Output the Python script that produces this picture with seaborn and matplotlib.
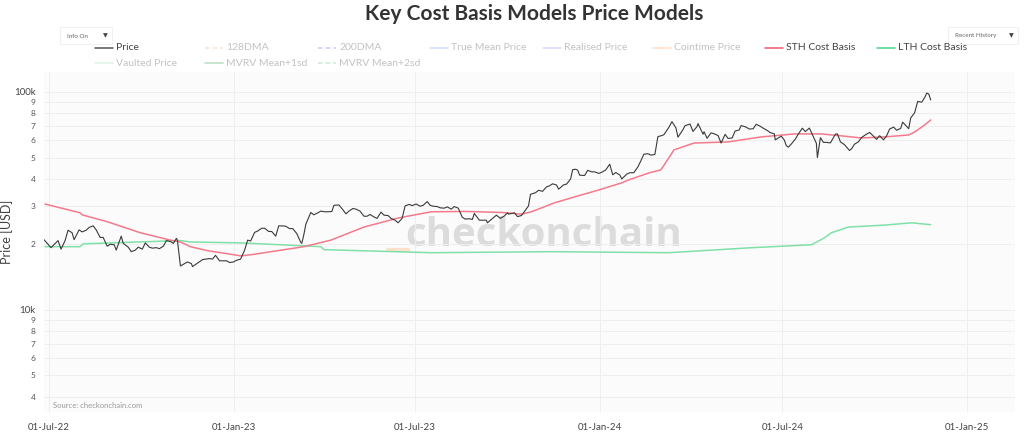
import numpy as np
import pandas as pd
import matplotlib
matplotlib.use("Agg")
import matplotlib.pyplot as plt
import matplotlib.dates as mdates
from matplotlib.lines import Line2D
from matplotlib.patches import Rectangle
from matplotlib.ticker import FixedLocator, FixedFormatter, NullLocator
import seaborn as sns

# ---- data (USD) ----
# weekly Sunday closes, 26-Jun-22 .. 24-Nov-24
price_weekly_start = "2022-06-26"
price_weekly = [
    21.0, 19.3, 20.8, 20.8, 22.6, 23.3, 23.2, 24.3, 21.5, 19.6, 19.9, 21.8, 19.4, 18.8,
    19.0, 19.4, 19.3, 19.6, 20.6, 20.9, 16.3, 16.3, 16.5, 17.1, 17.1, 16.8, 16.8,
    16.6, 17.1, 20.9, 22.7, 23.7, 22.9, 21.8, 24.3, 23.6, 22.4, 22.1, 28.0, 27.9,
    28.2, 28.3, 30.3, 27.6, 29.2, 28.4, 26.9, 26.7, 28.1, 27.1, 25.8, 26.3, 30.5,
    30.6, 30.2, 30.2, 29.8, 29.3, 29.0, 29.3, 26.1, 26.0, 25.8, 25.8, 26.5, 26.3,
    27.9, 27.9, 27.1, 30.0, 34.5, 35.0, 37.1, 37.4, 37.5, 39.9, 43.8, 41.4, 43.0, 42.3,
    43.9, 41.7, 41.6, 42.0, 42.6, 48.3, 52.1, 51.7, 63.1, 68.9, 68.4, 67.2, 71.3,
    69.4, 65.7, 64.9, 63.1, 63.9, 61.5, 66.9, 69.0, 67.8, 69.6, 66.6, 64.3, 62.7,
    55.8, 60.8, 68.2, 68.3, 58.1, 58.7, 58.4, 64.2, 57.3, 54.8, 59.1, 63.6, 63.3,
    63.0, 62.9, 69.0, 68.0, 68.7, 80.4, 89.8, 97.9,
]
# mid-week swings
price_extra_dates = [
    "2022-07-13", "2022-07-20", "2022-07-26", "2022-08-03", "2022-08-10", "2022-08-17",
    "2022-08-24", "2022-08-31", "2022-09-06", "2022-09-13", "2022-09-21", "2022-09-28",
    "2022-10-05", "2022-10-12", "2022-10-19", "2022-10-26", "2022-11-02", "2022-11-05",
    "2022-11-09", "2022-11-16", "2022-11-21", "2022-12-01", "2022-12-08", "2022-12-14",
    "2022-12-21", "2022-12-28", "2023-01-04", "2023-01-12", "2023-01-18", "2023-01-25",
    "2023-02-01", "2023-02-08", "2023-02-15", "2023-02-22", "2023-03-01", "2023-03-09",
    "2023-03-10", "2023-03-14", "2023-03-22", "2023-03-29", "2023-04-05", "2023-04-11",
    "2023-04-20", "2023-04-26", "2023-05-03", "2023-05-11", "2023-05-17", "2023-05-24",
    "2023-05-31", "2023-06-07", "2023-06-14", "2023-06-21", "2023-06-28", "2023-07-06",
    "2023-07-13", "2023-07-19", "2023-07-26", "2023-08-02", "2023-08-09", "2023-08-17",
    "2023-08-24", "2023-08-29", "2023-09-06", "2023-09-11", "2023-09-20", "2023-09-28",
    "2023-10-02", "2023-10-11", "2023-10-18", "2023-10-24", "2023-11-01", "2023-11-09",
    "2023-11-15", "2023-11-21", "2023-11-29", "2023-12-05", "2023-12-08", "2023-12-12",
    "2023-12-20", "2023-12-27", "2024-01-03", "2024-01-11", "2024-01-17", "2024-01-23",
    "2024-01-31", "2024-02-08", "2024-02-14", "2024-02-21", "2024-02-28", "2024-03-05",
    "2024-03-13", "2024-03-19", "2024-03-26", "2024-04-03", "2024-04-08", "2024-04-13",
    "2024-04-17", "2024-04-24", "2024-05-01", "2024-05-08", "2024-05-15", "2024-05-21",
    "2024-05-29", "2024-06-05", "2024-06-12", "2024-06-19", "2024-06-24", "2024-07-03",
    "2024-07-05", "2024-07-10", "2024-07-17", "2024-07-24", "2024-07-29", "2024-08-05",
    "2024-08-08", "2024-08-14", "2024-08-23", "2024-08-28", "2024-09-06", "2024-09-11",
    "2024-09-18", "2024-09-26", "2024-10-03", "2024-10-10", "2024-10-16", "2024-10-23",
    "2024-10-29", "2024-11-04", "2024-11-06", "2024-11-13", "2024-11-20", "2024-11-22",
    "2024-11-26",
]
price_extra = [
    19.0, 23.2, 21.0, 22.8, 23.9, 23.3, 21.5, 20.0, 18.8, 20.2, 18.5, 19.4,
    20.3, 19.2, 19.1, 20.8, 20.2, 21.3, 15.9, 16.6, 15.8, 17.0, 17.2, 17.8,
    16.8, 16.5, 16.9, 18.8, 20.7, 23.0, 23.7, 22.9, 24.3, 24.2, 23.6, 20.4,
    20.2, 24.7, 27.3, 28.4, 28.2, 30.2, 28.8, 28.4, 29.0, 26.9, 27.4, 26.3,
    27.2, 26.3, 25.1, 30.0, 30.1, 29.9, 31.4, 29.9, 29.4, 29.7, 29.8, 26.6,
    26.2, 27.7, 25.8, 25.1, 27.2, 27.0, 27.5, 26.8, 28.3, 33.9, 35.4, 36.7,
    37.9, 35.8, 37.8, 44.0, 44.2, 41.5, 43.7, 43.0, 42.8, 46.6, 42.7, 39.9,
    42.6, 45.3, 51.8, 51.3, 62.4, 63.7, 73.1, 62.0, 70.0, 65.9, 71.6, 64.0,
    61.3, 64.3, 58.3, 61.2, 66.2, 70.1, 67.6, 71.1, 68.2, 65.1, 60.3, 60.2,
    56.7, 57.7, 64.1, 65.8, 66.8, 50.0, 61.7, 58.7, 64.1, 59.0, 53.9, 57.6,
    61.8, 65.2, 60.6, 60.3, 67.6, 66.7, 72.7, 67.8, 75.9, 90.5, 94.3, 98.9,
    91.9,
]

sth_dates = [
    "2022-06-27", "2022-08-01", "2022-08-03", "2022-08-28", "2022-09-30", "2022-10-30",
    "2022-11-09", "2022-11-19", "2022-12-06", "2022-12-26", "2023-01-08", "2023-01-18",
    "2023-03-12", "2023-04-08", "2023-05-11", "2023-06-14", "2023-07-17", "2023-08-20",
    "2023-09-25", "2023-10-15", "2023-10-25", "2023-11-17", "2023-12-04", "2023-12-31",
    "2024-01-23", "2024-01-30", "2024-02-19", "2024-03-02", "2024-03-15", "2024-04-04",
    "2024-05-08", "2024-06-10", "2024-07-13", "2024-07-30", "2024-08-09", "2024-08-29",
    "2024-09-18", "2024-10-11", "2024-11-04", "2024-11-10", "2024-11-20", "2024-11-26",
]
sth_cost = [
    30.6, 27.9, 27.3, 25.4, 22.6, 20.9,
    20.5, 19.5, 18.7, 18.1, 17.7, 17.9,
    19.5, 20.9, 24.0, 26.4, 28.2, 28.3,
    28.0, 27.5, 28.2, 31.0, 32.7, 35.5,
    38.3, 39.5, 42.5, 43.9, 54.2, 58.3,
    59.0, 62.2, 64.2, 64.2, 64.2, 62.9,
    61.5, 62.2, 63.5, 65.5, 70.6, 74.4,
]

lth_dates = [
    "2022-06-27", "2022-08-01", "2022-08-04", "2022-11-09", "2022-11-19", "2023-01-08",
    "2023-03-29", "2023-04-01", "2023-07-17", "2023-11-14", "2024-03-10", "2024-06-01",
    "2024-07-30", "2024-08-12", "2024-08-19", "2024-09-05", "2024-10-11", "2024-11-07",
    "2024-11-26",
]
lth_cost = [
    19.5, 19.5, 20.1, 20.8, 20.5, 20.3,
    19.5, 18.9, 18.3, 18.5, 18.3, 19.3,
    19.9, 21.4, 22.6, 24.0, 24.5, 25.1,
    24.6,
]

cointime_dates = ["2023-06-04", "2023-06-24"]
cointime = [18.9, 18.9]

# legend entries: label, colour, dashed, shown on chart
legend_rows = [
    [("Price", "#555555", False, True), ("128DMA", "#f7b267", True, False),
     ("200DMA", "#7b61ff", True, False), ("True Mean Price", "#7aa2f7", False, False),
     ("Realised Price", "#a78bfa", False, False), ("Cointime Price", "#f7a35c", False, False),
     ("STH Cost Basis", "#f2546d", False, True), ("LTH Cost Basis", "#46d688", False, True)],
    [("Vaulted Price", "#9fe3bd", False, False), ("MVRV Mean+1sd", "#2e9e4f", False, False),
     ("MVRV Mean+2sd", "#6cc08a", True, False)],
]

price = pd.concat([
    pd.DataFrame({"date": pd.date_range(price_weekly_start, periods=len(price_weekly), freq="7D"),
                  "usd": np.array(price_weekly) * 1000}),
    pd.DataFrame({"date": pd.to_datetime(price_extra_dates), "usd": np.array(price_extra) * 1000}),
]).sort_values("date")
sth = pd.DataFrame({"date": pd.to_datetime(sth_dates), "usd": np.array(sth_cost) * 1000})
lth = pd.DataFrame({"date": pd.to_datetime(lth_dates), "usd": np.array(lth_cost) * 1000})
cti = pd.DataFrame({"date": pd.to_datetime(cointime_dates), "usd": np.array(cointime) * 1000})

sns.set_style("white")
plt.rcParams["font.family"] = ["Lato", "DejaVu Sans"]

W, H = 1024, 432
fig = plt.figure(figsize=(W / 100, H / 100), dpi=100)
ax = fig.add_axes([44 / W, 1 - 412 / H, 971 / W, 340 / H])
ax.set_facecolor("#fbfbfb")


def px(x, y):
    return x / W, 1 - y / H


sns.lineplot(data=cti, x="date", y="usd", ax=ax, color="#f9c48f", linewidth=3, alpha=0.45)
sns.lineplot(data=lth, x="date", y="usd", ax=ax, color="#7fe0a8", linewidth=1.1)
sns.lineplot(data=sth, x="date", y="usd", ax=ax, color="#f47a8b", linewidth=1.1)
sns.lineplot(data=price, x="date", y="usd", ax=ax, color="#3a3a3a", linewidth=0.8, sort=False)

ax.set_yscale("log")
ax.set_ylim(3400, 123500)
ax.set_xlim(pd.Timestamp("2022-06-26"), pd.Timestamp("2025-02-18"))

ymaj = [1e4, 1e5]
ymin = [4e3, 5e3, 6e3, 7e3, 8e3, 9e3, 2e4, 3e4, 4e4, 5e4, 6e4, 7e4, 8e4, 9e4]
ax.yaxis.set_major_locator(FixedLocator(ymaj))
ax.yaxis.set_major_formatter(FixedFormatter(["10k", "100k"]))
ax.yaxis.set_minor_locator(FixedLocator(ymin))
ax.yaxis.set_minor_formatter(FixedFormatter([str(int(v / 10 ** np.floor(np.log10(v)))) for v in ymin]))
ax.tick_params(axis="y", which="major", labelsize=7, colors="#444444", length=0, pad=6)
ax.tick_params(axis="y", which="minor", labelsize=6, colors="#555555", length=0, pad=6)

ax.xaxis.set_major_locator(mdates.MonthLocator(bymonth=[1, 7]))
ax.xaxis.set_major_formatter(mdates.DateFormatter("%d-%b-%y"))
ax.xaxis.set_minor_locator(NullLocator())
ax.tick_params(axis="x", labelsize=7, colors="#444444", length=0, pad=8)

ax.grid(True, which="both", color="#eeeeee", linewidth=0.7)
ax.set_axisbelow(True)
for s in ax.spines.values():
    s.set_visible(False)
ax.set_xlabel("")
ax.set_ylabel("Price [USD]", fontsize=9, color="#444444")
ax.yaxis.set_label_coords(-31 / 971, (412 - 232) / 340)

# watermark + source
ax.text(0.515, 0.52, "checkonchain", transform=ax.transAxes, ha="center", va="center",
        fontsize=29, fontweight="bold", color="#dcdcdc", family="Open Sans", zorder=0)
fig.text(*px(53, 405), "Source: checkonchain.com", fontsize=5.5, color="#9a9a9a", va="center")

fig.text(0.522, 1 - 14 / H, "Key Cost Basis Models Price Models", ha="center", va="center",
         fontsize=15, fontweight="bold", color="#333333")

# legend
col_x = [95, 205, 318, 430, 543, 653, 765, 877]
row_y = [48, 63]
for r, row in enumerate(legend_rows):
    for c, (label, color, dashed, shown) in enumerate(row):
        x0, y0 = col_x[c], row_y[r]
        alpha = 1.0 if shown else 0.35
        fig.add_artist(Line2D([x0 / W, (x0 + 18) / W], [1 - y0 / H] * 2, color=color,
                              linewidth=1.1, linestyle=(0, (3, 2)) if dashed else "-", alpha=alpha))
        fig.text((x0 + 21) / W, 1 - y0 / H, label, fontsize=7.5, va="center",
                 color="#444444" if shown else "#c2c2c2")

# dropdown boxes
for x0, x1, label in [(60, 112, "Info On"), (948, 1018, "Recent History")]:
    fig.add_artist(Rectangle(px(x0, 44), (x1 - x0) / W, 17 / H, facecolor="white",
                             edgecolor="#eeeeee", linewidth=0.6))
    fig.text((x0 + 7) / W, 1 - 36 / H, label, fontsize=4.5, color="#666666", va="center")
    fig.text((x1 - 9) / W, 1 - 36 / H, "▼", fontsize=4.5, color="#444444", va="center",
             family="DejaVu Sans")

fig.savefig("out.png", dpi=100, facecolor="white")
